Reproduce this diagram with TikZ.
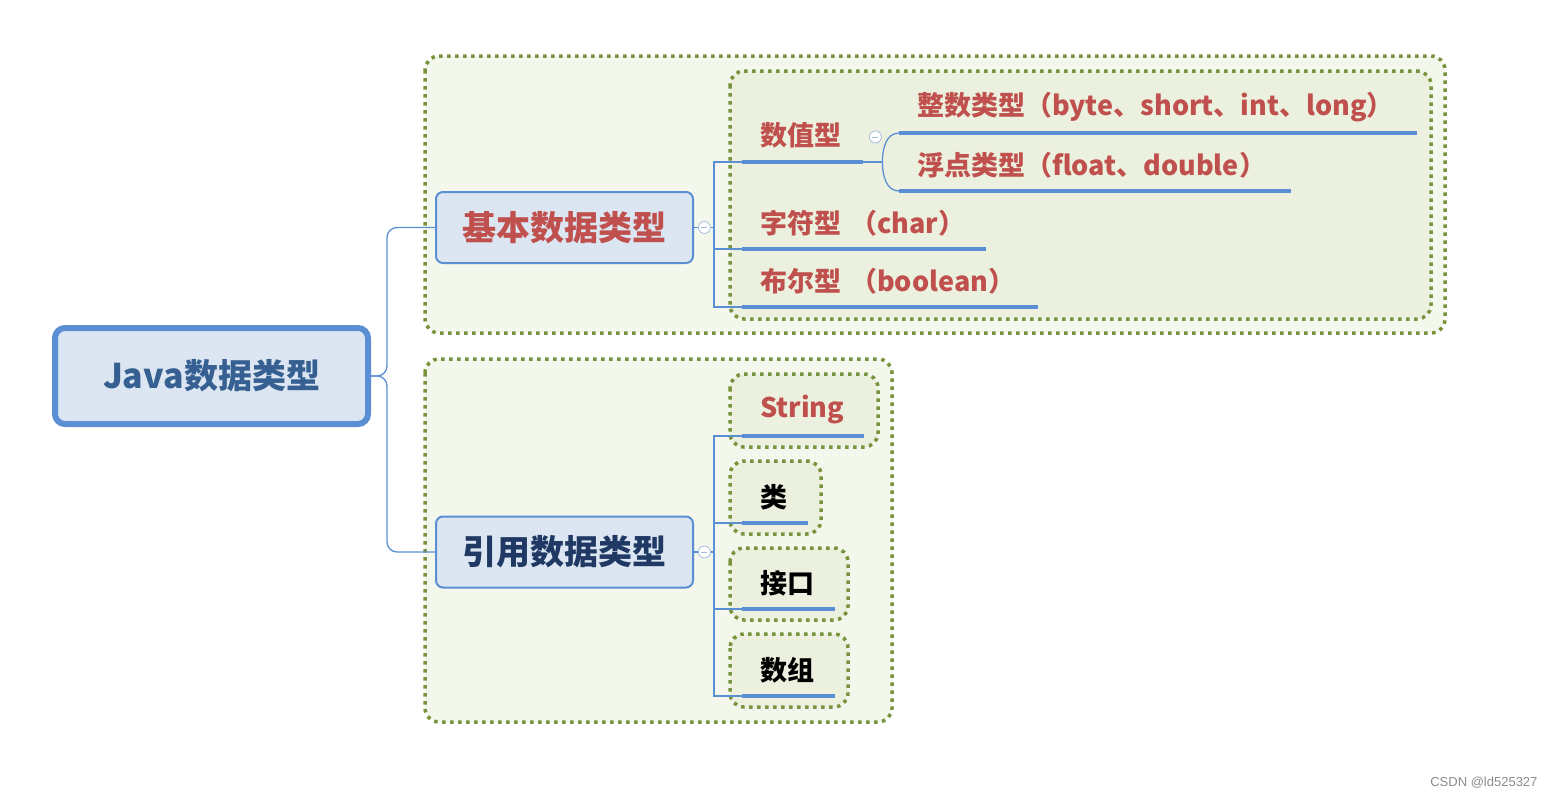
\documentclass[tikz,border=0pt]{standalone}
\usepackage{fontspec}
\newfontfamily\cjk{Noto Sans CJK SC}
\newfontfamily\wmfont{Liberation Sans}
\usetikzlibrary{positioning}

\definecolor{lineblue}{HTML}{5B8FD4}
\definecolor{nodefill}{HTML}{DCE6F2}
\definecolor{txtred}{HTML}{C0504D}
\definecolor{rootblue}{HTML}{376092}
\definecolor{refblue}{HTML}{1F3864}
\definecolor{grpgreen}{HTML}{77933C}
\definecolor{outerfill}{HTML}{F3F7EC}
\definecolor{innerfill}{HTML}{EBF1DE}
\definecolor{foldblue}{HTML}{A6BDDB}

\begin{document}
\begin{tikzpicture}[
  x=1pt, y=-1pt,
  group/.style={draw=grpgreen, line width=3.5pt, dash pattern=on 3.5pt off 4.5pt, rounded corners=14pt, fill=outerfill},
  subgroup/.style={group, fill=innerfill},
  root/.style={rectangle, draw=lineblue, line width=6pt, rounded corners=10pt, fill=nodefill, minimum width=313pt, minimum height=96pt, font=\cjk\bfseries\fontsize{34}{40}\selectfont, text=rootblue},
  maintopic/.style={rectangle, draw=lineblue, line width=2pt, rounded corners=7pt, fill=nodefill, minimum width=257pt, minimum height=71pt, font=\cjk\bfseries\fontsize{34}{40}\selectfont},
  topic/.style={rectangle, anchor=south west, inner xsep=18pt, inner ysep=0pt, minimum height=52pt, align=left, font=\cjk\bfseries\fontsize{27}{32}\selectfont, text=txtred},
  conn/.style={draw=lineblue, line width=1.3pt},
  uline/.style={draw=lineblue, line width=4pt},
  fold/.style={circle, draw=foldblue, fill=white, line width=0.8pt, minimum size=12pt, inner sep=0pt,
    path picture={\draw[foldblue, line width=1pt] ([xshift=-3pt]path picture bounding box.center) -- ([xshift=3pt]path picture bounding box.center);}}
]
\fill[white] (0,0) rectangle (1556,796);
\useasboundingbox (0,0) rectangle (1556,796);

% group frames
\draw[group] (425,56) rectangle (1445,333);
\draw[subgroup] (730,71) rectangle (1431,319);
\draw[group] (425,359) rectangle (892,722);
\draw[subgroup] (730,374) rectangle (878,447);
\draw[subgroup] (730,461) rectangle (821,534);
\draw[subgroup] (730,548) rectangle (848,620);
\draw[subgroup] (730,634) rectangle (848,707);

\node[root] (java) at (211.5,376) {Java数据类型};
\node[maintopic, text=txtred] (basic) at (564.5,227.5) {基本数据类型};
\node[maintopic, text=refblue] (ref) at (564.5,552) {引用数据类型};

% basic types
\node[topic, text width=85pt] (num) at (742,162) {数值型};
\node[topic, text width=482pt] (int) at (899,133) {整数类型（byte、short、int、long）};
\node[topic, text width=356pt] (flt) at (899,191) {浮点类型（float、double）};
\node[topic, text width=208pt] (chr) at (742,249) {字符型 （char）};
\node[topic, text width=260pt] (bool) at (742,307) {布尔型 （boolean）};

% reference types
\node[topic, text width=86pt] (str) at (742,436) {String};
\node[topic, text width=30pt, text=black] (cls) at (742,523) {类};
\node[topic, text width=57pt, text=black] (ifc) at (742,609) {接口};
\node[topic, text width=57pt, text=black] (arr) at (742,696) {数组};

\draw[conn, rounded corners=10pt] (java.east) -- ++(16,0) |- (basic.west);
\draw[conn, rounded corners=10pt] (java.east) -- ++(16,0) |- (ref.west);
\foreach \n in {num,chr,bool}
  \draw[conn] (basic.east) -- ++(20,0) |- (\n.south west);
\foreach \n in {str,cls,ifc,arr}
  \draw[conn] (ref.east) -- ++(20,0) |- (\n.south west);
\draw[conn] (num.south east) -- ++(19,0) coordinate (numfork);
\draw[conn] (int.south west) to[out=180,in=90] (numfork) to[out=-90,in=180] (flt.south west);

\foreach \n in {num,int,flt,chr,bool,str,cls,ifc,arr}
  \draw[uline] (\n.south west) -- (\n.south east);

\node[fold, right=4pt of basic] (basicfold) {};
\node[fold, right=4pt of ref] (reffold) {};
\node[fold] (numfold) at ([xshift=12pt,yshift=25pt]num.south east) {};

\node[anchor=base east, font=\wmfont\fontsize{13}{15}\selectfont, text=black!45] (mark) at (1541,786) {CSDN @ld525327};
\end{tikzpicture}
\end{document}
